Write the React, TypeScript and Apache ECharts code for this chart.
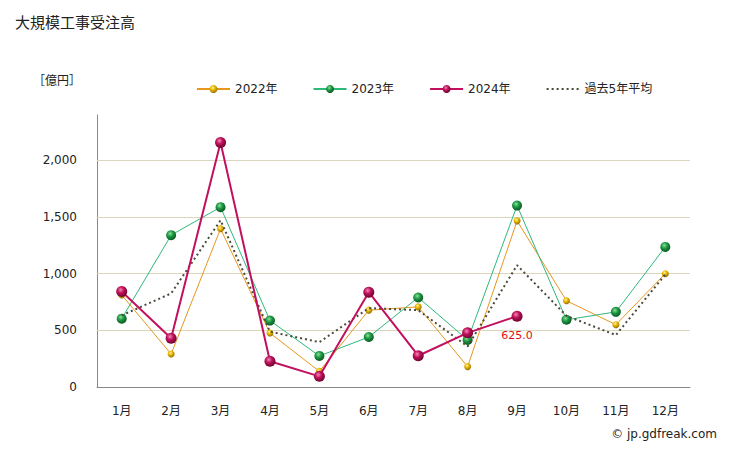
import React, { useEffect, useRef } from "react";
import * as echarts from "echarts";

const months = ["1月", "2月", "3月", "4月", "5月", "6月", "7月", "8月", "9月", "10月", "11月", "12月"];
const s2022 = [812, 291, 1396, 476, 138, 678, 707, 180, 1466, 761, 550, 1000];
const s2023 = [603, 1340, 1587, 586, 274, 441, 790, 415, 1601, 593, 663, 1236];
const s2024: (number | null)[] = [843, 430, 2158, 227, 94, 837, 276, 478, 625, null, null, null];
const avg5 = [632, 826, 1471, 488, 396, 696, 678, 358, 1075, 628, 458, 993];
const gridValues = [500, 1000, 1500, 2000];

const FONT = "'DejaVu Sans', 'Noto Sans CJK JP', sans-serif";
const JFONT = "'Noto Sans CJK JP', sans-serif";

function ball(light: string, mid: string, dark: string) {
  return {
    type: "radial",
    x: 0.4,
    y: 0.35,
    r: 0.65,
    colorStops: [
      { offset: 0, color: light },
      { offset: 0.45, color: mid },
      { offset: 1, color: dark },
    ],
  } as any;
}

export default function App() {
  const ref = useRef<HTMLDivElement>(null);
  useEffect(() => {
    if (!ref.current) return;
    const chart = echarts.init(ref.current, undefined, { renderer: "svg" });
    chart.setOption({
      animation: false,
      textStyle: { fontFamily: FONT },
      title: {
        text: "大規模工事受注高",
        left: 10,
        top: 9,
        textStyle: { fontSize: 15, fontWeight: "normal", color: "#222", fontFamily: JFONT },
      },
      graphic: [
        {
          type: "text",
          left: 33,
          top: 73,
          style: { text: "［億円］", fontSize: 12, fill: "#222", fontFamily: JFONT },
        },
        {
          type: "text",
          right: 12,
          top: 428,
          style: { text: "© jp.gdfreak.com", fontSize: 12, fill: "#222", fontFamily: FONT },
        },
      ],
      legend: {
        left: 191,
        top: 78,
        itemWidth: 33,
        itemHeight: 10,
        itemGap: 35,
        textStyle: { fontSize: 12, color: "#222", fontFamily: FONT },
        data: [
          "2022年",
          "2023年",
          "2024年",
          { name: "過去5年平均", itemStyle: { opacity: 0 } },
        ],
      },
      grid: { left: 97, right: 39, top: 115, bottom: 64 },
      xAxis: {
        type: "category",
        data: months,
        axisLine: { lineStyle: { color: "#888", width: 1 } },
        axisTick: { show: false },
        axisLabel: { color: "#222", fontSize: 12, margin: 18, fontFamily: FONT },
      },
      yAxis: {
        type: "value",
        min: 0,
        max: 2400,
        interval: 500,
        axisLine: { show: true, lineStyle: { color: "#888", width: 1 } },
        axisTick: { show: false },
        splitLine: { show: false },
        axisLabel: {
          color: "#222",
          fontSize: 12,
          margin: 20,
          fontFamily: FONT,
          formatter: (v: number) => (v % 500 === 0 ? v.toLocaleString("en-US") : ""),
        },
      },
      series: [
        {
          name: "2022年",
          type: "line",
          data: s2022,
          symbol: "circle",
          symbolSize: 7,
          z: 3,
          lineStyle: { color: "#E8961E", width: 1 },
          itemStyle: { color: ball("#FFF3A0", "#E8B800", "#9A7000"), borderWidth: 0 },
          markLine: {
            silent: true,
            symbol: "none",
            label: { show: false },
            lineStyle: { color: "#DAD6BC", width: 1, type: "solid" },
            data: gridValues.map((v) => ({ yAxis: v })),
            z: 1,
          },
        },
        {
          name: "2023年",
          type: "line",
          data: s2023,
          symbol: "circle",
          symbolSize: 10,
          z: 4,
          lineStyle: { color: "#2EB87A", width: 1 },
          itemStyle: { color: ball("#8FE09A", "#1E9A45", "#0B5A22"), borderWidth: 0 },
        },
        {
          name: "過去5年平均",
          type: "line",
          data: avg5,
          symbol: "none",
          z: 5,
          lineStyle: { color: "#4A4A3A", width: 2, type: [2, 3] },
          itemStyle: { color: "#4A4A3A" },
        },
        {
          name: "2024年",
          type: "line",
          data: s2024,
          symbol: "circle",
          symbolSize: 11,
          z: 6,
          lineStyle: { color: "#C2105E", width: 2 },
          itemStyle: { color: ball("#F08AB8", "#C0105A", "#6E0530"), borderWidth: 0 },
          label: {
            show: true,
            position: "bottom",
            distance: 8,
            color: "#E01010",
            fontSize: 11,
            fontFamily: FONT,
            formatter: (p: any) => (p.dataIndex === 8 ? Number(p.value).toFixed(1) : ""),
          },
        },
      ],
    });
    return () => chart.dispose();
  }, []);
  return <div ref={ref} style={{ width: 729, height: 451, position: "absolute", left: 0, top: 0 }} />;
}
